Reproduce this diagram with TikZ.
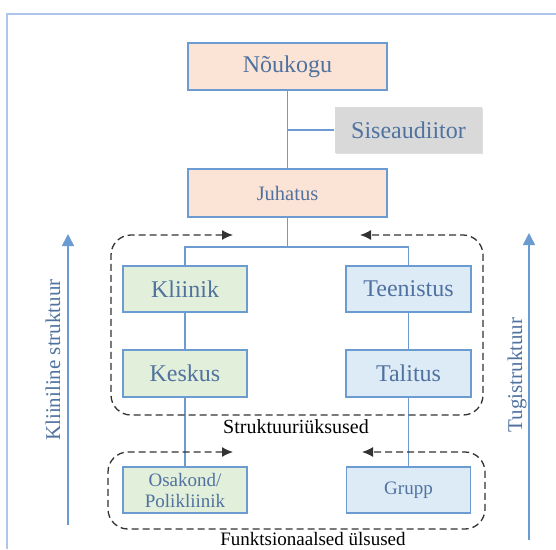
\documentclass[tikz,border=0pt]{standalone}
\usepackage{fontspec}
\setmainfont{Liberation Serif}
\usetikzlibrary{arrows.meta,shadows}
\definecolor{linkblue}{RGB}{108,155,210}
\definecolor{frameblue}{RGB}{172,198,236}
\definecolor{textblue}{RGB}{80,114,160}
\definecolor{peachfill}{RGB}{251,228,213}
\definecolor{greyfill}{RGB}{217,217,217}
\definecolor{greenfill}{RGB}{226,239,218}
\definecolor{bluefill}{RGB}{221,235,247}
\tikzset{
	unit/.style={draw=linkblue, line width=1.2pt, text=textblue, inner sep=0pt, align=center, minimum height=46pt},
	big/.style={font=\fontsize{24}{28}\selectfont},
	small/.style={font=\fontsize{19}{23}\selectfont},
	link/.style={draw=linkblue, line width=1.2pt},
	group/.style={draw=black!80, line width=1.3pt, dash pattern=on 7pt off 4pt, rounded corners=20pt, {Latex[length=11pt,width=10pt]}-{Latex[length=11pt,width=10pt]}},
	axis/.style={draw=linkblue, line width=1.5pt, -{Triangle[length=12pt,width=12pt]}, fill=linkblue}
}
\begin{document}
\begin{tikzpicture}[x=1pt, y=-1pt]
			\useasboundingbox (0,0) rectangle (556,549);
			\draw [frameblue, line width=1.5pt] (556,14) -- (7,14) -- (7,549);
			% juhtimine
			\node [unit, big, fill=peachfill, minimum width=199pt, minimum height=47pt] (noukogu) at (287.5,66.5) {Nõukogu};
			\node [unit, big, draw=none, fill=greyfill, minimum width=147pt, drop shadow={opacity=0.25, shadow xshift=1pt, shadow yshift=-1pt}] (siseaudiitor) at (408.5,130) {Siseaudiitor};
			\node [unit, fill=peachfill, font=\fontsize{20.5}{24}\selectfont, minimum width=199pt, minimum height=48pt] (juhatus) at (287.5,193) {Juhatus};
			% struktuuriüksused
			\node [unit, big, fill=greenfill, minimum width=124pt] (kliinik) at (185,289) {Kliinik};
			\node [unit, big, fill=bluefill, minimum width=125pt] (teenistus) at (408.5,289) {Teenistus};
			\node [unit, big, fill=greenfill, minimum width=124pt, minimum height=47pt] (keskus) at (185,373.5) {Keskus};
			\node [unit, big, fill=bluefill, minimum width=125pt, minimum height=47pt] (talitus) at (408.5,373.5) {Talitus};
			% funktsionaalsed üksused
			\node [unit, small, fill=greenfill, minimum width=124pt] (osakond) at (185,490) {Osakond/\\[-2pt]Polikliinik};
			\node [unit, small, fill=bluefill, minimum width=124pt] (grupp) at (408.5,490) {Grupp};
			\node [font=\fontsize{20}{24}\selectfont] (struktuur) at (296,427) {Struktuuriüksused};
			\node [font=\fontsize{19}{23}\selectfont, anchor=base] (funktsioon) at (313,545.5) {Funktsionaalsed ülsused};
			\node [text=textblue, font=\fontsize{21}{25}\selectfont, rotate=90] (kliiniline) at (53,360) {Kliiniline struktuur};
			\node [text=textblue, font=\fontsize{21}{25}\selectfont, rotate=90] (tugi) at (517,375) {Tugistruktuur};
			% ühendused
			\coordinate (haru) at (287.5,247);
			\draw [link] (noukogu) -- (juhatus);
			\draw [link] (siseaudiitor.west) -- (siseaudiitor.west -| noukogu);
			\draw [link] (juhatus) -- (haru);
			\draw [link] (kliinik.north) |- (haru) -| (teenistus.north);
			\draw [link] (kliinik) -- (keskus) -- (osakond);
			\draw [link] (teenistus) -- (talitus) -- (grupp);
			% rühmad
			\draw [group] (233,235) -- (111,235) -- (111,415) -- (483,415) -- (483,235) -- (360,235);
			\draw [group] (233,452) -- (108,452) -- (108,529) -- (485,529) -- (485,452) -- (362,452);
			% suunad
			\coordinate (kl-alla) at (68,525);
			\coordinate (kl-yles) at (68,234);
			\coordinate (tu-alla) at (529,540);
			\coordinate (tu-yles) at (529,233);
			\draw [axis] (kl-alla) -- (kl-yles);
			\draw [axis] (tu-alla) -- (tu-yles);
		\end{tikzpicture}
\end{document}
